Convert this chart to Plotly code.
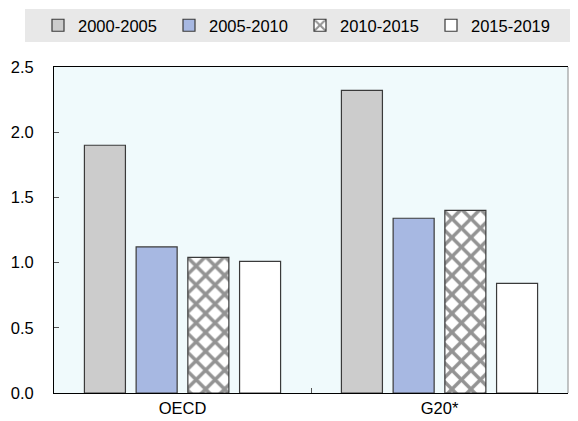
import plotly.graph_objects as go

categories = ["OECD", "G20*"]
series_names = ["2000-2005", "2005-2010", "2010-2015", "2015-2019"]
v_2000_2005 = [1.90, 2.32]
v_2005_2010 = [1.12, 1.34]
v_2010_2015 = [1.04, 1.40]
v_2015_2019 = [1.01, 0.84]
y_ticks = [0.0, 0.5, 1.0, 1.5, 2.0, 2.5]

series_values = [v_2000_2005, v_2005_2010, v_2010_2015, v_2015_2019]
fills = ["#CCCCCC", "#A7B8E2", "#FFFFFF", "#FFFFFF"]
patterns = [None, None, dict(shape="x", fgcolor="#939393", bgcolor="#FFFFFF", size=13.4, solidity=0.45, fillmode="replace"), None]

fig = go.Figure()
for name, vals, col, pat in zip(series_names, series_values, fills, patterns):
    marker = dict(color=col, line=dict(color="#3A3A3A", width=1.2))
    if pat:
        marker["pattern"] = pat
    fig.add_trace(go.Bar(x=categories, y=vals, name=name, marker=marker))

font_family = "Liberation Sans, Arial, sans-serif"
FS = 16.5

# The page body has an 8px margin, so the figure is sized to the visible area.
W, H = 570, 413
L, R, T, B = 46, 10, 59, 28
PW, PH = W - L - R, H - T - B

fig.update_layout(
    width=W, height=H,
    margin=dict(l=L, r=R, t=T, b=B, autoexpand=False),
    paper_bgcolor="#FFFFFF",
    plot_bgcolor="#F0FAFC",
    barmode="group",
    bargap=0.195,
    bargroupgap=0.207,
    font=dict(family=font_family, size=FS, color="#000000"),
    showlegend=True,
    legend=dict(
        orientation="h",
        xref="paper", yref="paper",
        x=(30 - L) / PW, y=(H - B - 17.5) / PH, xanchor="left", yanchor="middle",
        bgcolor="rgba(0,0,0,0)",
        font=dict(family=font_family, size=FS, color="#000000"),
        entrywidth=86, entrywidthmode="pixels",
        itemclick=False, itemdoubleclick=False,
        traceorder="normal",
    ),
    shapes=[
        dict(type="rect", xref="paper", yref="paper",
             x0=(17 - L) / PW, x1=(W - L) / PW,
             y0=(H - B - 34) / PH, y1=(H - B - 1) / PH,
             fillcolor="#E8E8E8", line=dict(width=0), layer="below"),
        dict(type="line", xref="paper", yref="paper", x0=1, x1=1, y0=0, y1=1,
             line=dict(color="#8A8A8A", width=1)),
    ],
)

fig.update_xaxes(
    showline=True, linecolor="#000000", linewidth=1, mirror=True,
    ticks="inside", tickson="boundaries", ticklen=5, tickcolor="#555555",
    showgrid=False, zeroline=False, automargin=False,
    tickfont=dict(size=FS),
)
fig.update_yaxes(
    range=[0, 2.5], tickvals=y_ticks, tickformat=".1f",
    showline=True, linecolor="#000000", linewidth=1,
    ticks="inside", ticklen=5, tickcolor="#555555",
    showgrid=False, zeroline=False, automargin=False,
    ticklabelstandoff=16,
    tickfont=dict(size=FS),
)

fig.write_html("out.html")
